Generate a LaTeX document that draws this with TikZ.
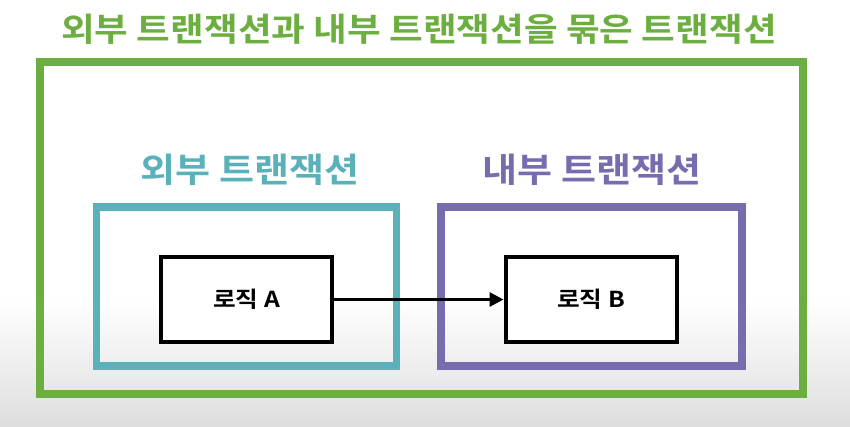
\documentclass[tikz,border=0pt]{standalone}
\usepackage{fontspec}
\usepackage{tikz}
\usetikzlibrary{arrows.meta}
\newfontfamily\kofont{Noto Sans CJK KR}[BoldFont={Noto Sans CJK KR Bold},
  FakeStretch=1.12]
\definecolor{txgreen}{HTML}{6DAE40}
\definecolor{txcyan}{HTML}{5BB1BA}
\definecolor{txpurple}{HTML}{786CAE}

\begin{document}
\begin{tikzpicture}[x=1pt, y=-1pt,
  frame/.style={rectangle, draw, inner sep=0pt},
  logic/.style={rectangle, draw=black, line width=4pt, inner sep=0pt,
    minimum width=171pt, minimum height=85pt, fill=white,
    font=\kofont\bfseries\fontsize{22}{24}\selectfont},
  txlab/.style={font=\kofont\bfseries\fontsize{34}{38}\selectfont}]
\useasboundingbox (0,0) rectangle (850,426);
% ----- background, fading to grey at the bottom -----
\fill[white] (0,0) rectangle (850,300);
\shade[top color=white, bottom color=black!13] (0,300) rectangle (850,426);
% ----- the transaction that binds both -----
\node[frame, draw=txgreen, line width=8pt, minimum width=762.5pt,
  minimum height=332pt] (whole) at (421.25,228) {};
\node[txlab, txgreen, font=\kofont\bfseries\fontsize{32.7}{38}\selectfont]
  (wholelab) at (419,29) {외부 트랜잭션과 내부 트랜잭션을 묶은 트랜잭션};
% ----- outer and inner transactions -----
\node[frame, draw=txcyan, line width=7.5pt, minimum width=300pt,
  minimum height=159pt] (outer) at (246.5,286.5) {};
\node[frame, draw=txpurple, line width=8pt, minimum width=301pt,
  minimum height=159pt] (inner) at (591.5,286.5) {};
\node[txlab, txcyan] (outerlab) at (250,170) {외부 트랜잭션};
\node[txlab, txpurple] (innerlab) at (592,170) {내부 트랜잭션};
% ----- logic boxes -----
\node[logic] (logicA) at (246.5,299.5) {로직 A};
\node[logic] (logicB) at (591,299.5) {로직 B};
\draw[line width=3pt, -{Triangle[length=14pt, width=14pt]}]
  (logicA.east) -- (logicB.west);
\end{tikzpicture}
\end{document}
